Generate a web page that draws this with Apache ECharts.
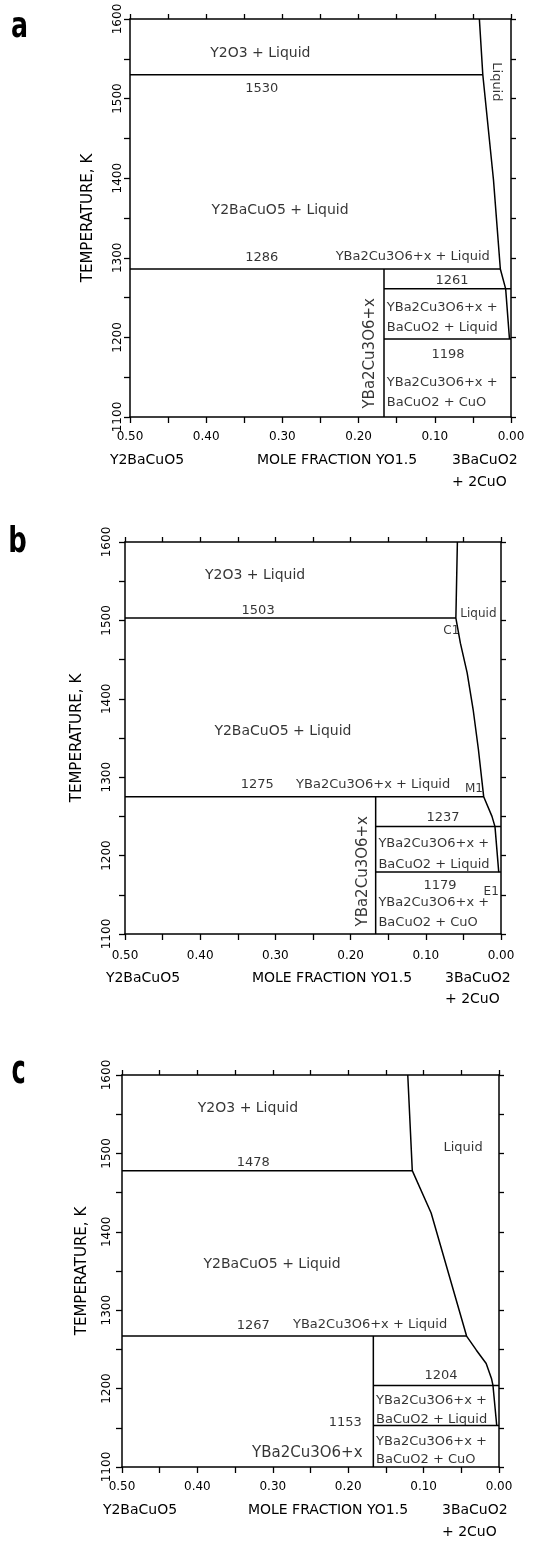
<!DOCTYPE html>
<html><head><meta charset="utf-8">
<script src="https://cdn.jsdelivr.net/npm/echarts@6/dist/echarts.min.js"></script>
<style>html,body{margin:0;padding:0;background:#fff}#c{width:540px;height:1541px}</style>
</head><body><div id="c"></div>
<script>
const FONT = '"DejaVu Sans", sans-serif';

// ---------------- data ----------------
const xTickLabels = ['0.50','0.40','0.30','0.20','0.10','0.00'];
const yTickLabels = ['1100','1200','1300','1400','1500','1600'];
const compoundX = 1/6;           // YBa2Cu3O6+x, mole fraction YO1.5

// panel a
const liquidusA = [[0.0415,1600],[0.037,1530],[0.023,1398],[0.014,1286],[0.007,1261],[0.002,1198]];
const isothermsA = [[1530,0.5,0.037],[1286,0.5,0.014],[1261,compoundX,0],[1198,compoundX,0]];
const compoundTopA = 1286;
const labelsA = [
  [0.329,1557,'Y2O3 + Liquid','big'],
  [0.327,1513,'1530','num'],
  [0.019,1521,'Liquid','vdown'],
  [0.303,1359,'Y2BaCuO5 + Liquid','big'],
  [0.327,1300,'1286','num'],
  [0.129,1301,'YBa2Cu3O6+x + Liquid','mid'],
  [0.0774,1271,'1261','num'],
  [0.163,1237,'YBa2Cu3O6+x +','left'],
  [0.163,1212,'BaCuO2 + Liquid','left'],
  [0.0827,1178,'1198','num'],
  [0.163,1143,'YBa2Cu3O6+x +','left'],
  [0.163,1118,'BaCuO2 + CuO','left'],
  [0.185,1180,'YBa2Cu3O6+x','vup']
];

// panel b
const liquidusB = [[0.058,1600],[0.060,1503],[0.054,1471],[0.045,1433],[0.037,1386],[0.030,1335],[0.023,1275],[0.012,1250],[0.008,1237],[0.003,1179]];
const isothermsB = [[1503,0.5,0.060],[1275,0.5,0.023],[1237,compoundX,0],[1179,compoundX,0]];
const compoundTopB = 1275;
const labelsB = [
  [0.327,1558,'Y2O3 + Liquid','big'],
  [0.323,1513,'1503','num'],
  [0.030,1508,'Liquid','small'],
  [0.066,1487,'C1','small'],
  [0.290,1358,'Y2BaCuO5 + Liquid','big'],
  [0.324,1290,'1275','num'],
  [0.170,1291,'YBa2Cu3O6+x + Liquid','mid'],
  [0.036,1285,'M1','small'],
  [0.077,1248,'1237','num'],
  [0.163,1215,'YBa2Cu3O6+x +','left'],
  [0.163,1189,'BaCuO2 + Liquid','left'],
  [0.081,1162,'1179','num'],
  [0.013,1154,'E1','small'],
  [0.163,1140,'YBa2Cu3O6+x +','left'],
  [0.163,1115,'BaCuO2 + CuO','left'],
  [0.1835,1180,'YBa2Cu3O6+x','vup']
];

// panel c
const liquidusC = [[0.121,1600],[0.115,1478],[0.090,1424],[0.043,1267],[0.030,1249],[0.017,1232],[0.010,1213],[0.008,1204],[0.003,1153]];
const isothermsC = [[1478,0.5,0.115],[1267,0.5,0.043],[1204,compoundX,0],[1153,compoundX,0]];
const compoundTopC = 1267;
const labelsC = [
  [0.333,1558,'Y2O3 + Liquid','big'],
  [0.0477,1507,'Liquid','mid'],
  [0.326,1488,'1478','num'],
  [0.301,1358,'Y2BaCuO5 + Liquid','big'],
  [0.326,1280,'1267','num'],
  [0.171,1282,'YBa2Cu3O6+x + Liquid','mid'],
  [0.077,1217,'1204','num'],
  [0.163,1185,'YBa2Cu3O6+x +','left'],
  [0.163,1161,'BaCuO2 + Liquid','left'],
  [0.204,1157,'1153','num'],
  [0.163,1132,'YBa2Cu3O6+x +','left'],
  [0.163,1110,'BaCuO2 + CuO','left'],
  [0.181,1118,'YBa2Cu3O6+x','rightBig']
];

const panelLetters = ['a','b','c'];

// ---------------- layout / styles ----------------
const panels = [
  {letter:panelLetters[0], grid:{left:130,top:19,width:381,height:398}, xm:14, ym:6, gap:34,
   nameY:460, name2Y:482, leftName:147, midName:337, rightLeft:452, letterPos:[19.5,27.3,36,0.70],
   liq:liquidusA, iso:isothermsA, top:compoundTopA, labels:labelsA},
  {letter:panelLetters[1], grid:{left:125,top:542,width:376,height:392}, xm:16, ym:12, gap:40,
   nameY:978, name2Y:999, leftName:143, midName:332, rightLeft:445, letterPos:[17.5,542.6,35,0.74],
   liq:liquidusB, iso:isothermsB, top:compoundTopB, labels:labelsB},
  {letter:panelLetters[2], grid:{left:122,top:1075,width:377,height:392}, xm:14, ym:9, gap:32,
   nameY:1510, name2Y:1532, leftName:140, midName:328, rightLeft:442, letterPos:[18.5,1073,40,0.6],
   liq:liquidusC, iso:isothermsC, top:compoundTopC, labels:labelsC}
];

const LABEL_STYLE = {
  big:     {fontSize:14, align:'center'},
  num:     {fontSize:13, align:'center'},
  mid:     {fontSize:13, align:'center'},
  left:    {fontSize:13, align:'left'},
  small:   {fontSize:12, align:'center'},
  vup:     {fontSize:15, align:'center', rotate:90},
  vdown:   {fontSize:13, align:'center', rotate:-90},
  rightBig:{fontSize:15, align:'right'}
};

const lineStyle = {color:'#000', width:1.5};
const grids = [], xAxes = [], yAxes = [], series = [], graphics = [];

panels.forEach((p, i) => {
  grids.push(Object.assign({containLabel:false, outerBoundsMode:'none'}, p.grid));
  const common = {gridIndex:i, type:'value', min:0, max:0.5, interval:0.05, inverse:true,
    splitLine:{show:false},
    axisLine:{onZero:false, lineStyle:{color:'#000', width:1.5}},
    axisTick:{show:true, length:6, lineStyle:{color:'#000', width:1.3}}};
  xAxes.push(Object.assign({}, common, {position:'bottom',
    axisLabel:{margin:p.xm, fontSize:12, color:'#000', fontFamily:FONT, showMinLabel:true, showMaxLabel:true,
      formatter: v => { const s = v.toFixed(2); return xTickLabels.includes(s) ? s : ''; }}}));
  xAxes.push(Object.assign({}, common, {position:'top', axisLabel:{show:false},
    axisTick:{show:true, length:5, lineStyle:{color:'#000', width:1.3}}}));
  const ycommon = {gridIndex:i, type:'value', min:1100, max:1600, interval:50,
    splitLine:{show:false},
    axisLine:{onZero:false, lineStyle:{color:'#000', width:1.5}}};
  yAxes.push(Object.assign({}, ycommon, {position:'left',
    axisTick:{show:true, length:6, lineStyle:{color:'#000', width:1.3}},
    name:'TEMPERATURE, K', nameLocation:'middle', nameRotate:90, nameGap:p.gap,
    nameTextStyle:{fontSize:15, color:'#000', fontFamily:FONT},
    axisLabel:{margin:p.ym, rotate:90, fontSize:12, color:'#000', fontFamily:FONT, showMinLabel:true, showMaxLabel:true,
      formatter: v => { const s = String(Math.round(v)); return yTickLabels.includes(s) ? s : ''; }}}));
  yAxes.push(Object.assign({}, ycommon, {position:'right', axisLabel:{show:false},
    axisTick:{show:true, length:5, lineStyle:{color:'#000', width:1.3}}}));

  const xi = 2*i, yi = 2*i;
  const addLine = (data) => series.push({type:'line', xAxisIndex:xi, yAxisIndex:yi, data, symbol:'none',
    lineStyle, silent:true, animation:false, z:3});
  addLine(p.liq);
  p.iso.forEach(([t, a, b]) => addLine([[a, t], [b, t]]));
  addLine([[compoundX, p.top], [compoundX, 1100]]);

  series.push({type:'scatter', xAxisIndex:xi, yAxisIndex:yi, symbolSize:1, silent:true, animation:false, z:5,
    itemStyle:{color:'rgba(0,0,0,0)'},
    data: p.labels.map(([x, t, txt, kind]) => ({value:[x, t],
      label: Object.assign({show:true, position:'inside', formatter:txt, color:'#000', fontFamily:FONT,
        verticalAlign:'middle', textBorderWidth:0}, LABEL_STYLE[kind])}))});

  const T = (text, x, y, align, size) => graphics.push({type:'text', x, y, silent:true,
    style:{text, fill:'#000', fontSize:size || 14, fontFamily:FONT, align:align, verticalAlign:'middle'}});
  T('Y2BaCuO5', p.leftName, p.nameY, 'center');
  T('MOLE FRACTION YO1.5', p.midName, p.nameY, 'center');
  T('3BaCuO2', p.rightLeft, p.nameY, 'left');
  T('+ 2CuO', p.rightLeft, p.name2Y, 'left');
  const [lx, ly, lsz, lsx] = p.letterPos;
  graphics.push({type:'text', x:lx, y:ly, scaleX:lsx, silent:true,
    style:{text:p.letter, fill:'#000', fontSize:lsz, fontWeight:'bold', fontFamily:FONT, align:'center', verticalAlign:'middle'}});
});

const chart = echarts.init(document.getElementById('c'), null, {renderer:'canvas'});
chart.setOption({
  backgroundColor:'#fff', animation:false,
  grid:grids, xAxis:xAxes, yAxis:yAxes, series, graphic:graphics
});
</script></body></html>
